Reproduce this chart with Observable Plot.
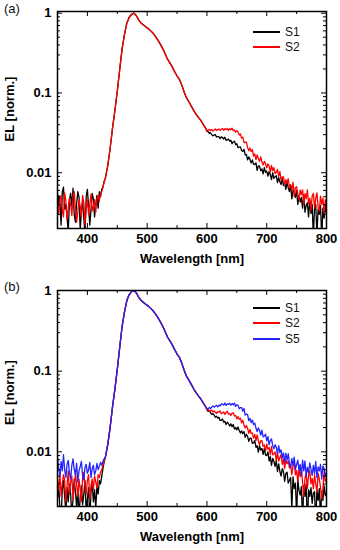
<!DOCTYPE html>
<html><head><meta charset="utf-8">
<script src="https://cdn.jsdelivr.net/npm/d3@7"></script>
<script src="https://cdn.jsdelivr.net/npm/@observablehq/plot@0.6"></script>
<style>
body{margin:0;background:#fff;font-family:"Liberation Sans",Arial,sans-serif;}
#wrap{position:relative;width:340px;height:550px;overflow:hidden;background:#fff}
.panel{position:absolute;left:0;width:340px;height:275px}
.tag{position:absolute;left:4px;font-size:13px;line-height:16px;color:#111}
.lg-line{position:absolute;height:2px}
.lg-text{position:absolute;font-size:12px;line-height:14px;color:#111}
g[aria-label="x-axis tick label"], g[aria-label="y-axis tick label"]{font-weight:bold;font-size:13px}
</style>
</head><body>
<div id="wrap">
  <div class="panel" id="pa" style="top:0"></div>
  <div class="panel" id="pb" style="top:275px"></div>
</div>
<script>
// ---- DATA ----
// Shared smooth emission peak, 430..598 nm every 4 nm (normalized EL)
const peak = [0.0085, 0.0122, 0.020, 0.036, 0.060, 0.105, 0.195, 0.355, 0.54, 0.75,
  0.89, 0.97, 1.00, 0.93, 0.82, 0.75, 0.71, 0.67, 0.64, 0.60,
  0.56, 0.51, 0.46, 0.41, 0.36, 0.31, 0.265, 0.238, 0.212, 0.185,
  0.163, 0.148, 0.125, 0.102, 0.086, 0.077, 0.068, 0.060, 0.054, 0.049,
  0.045, 0.040, 0.036];

// Noisy baseline 350..428 nm every 2 nm, in units of 1e-4
const aS1Low = [30, 52, 44, 22, 58, 66, 35, 40, 28, 18,
  46, 55, 38, 64, 30, 24, 41, 58, 49, 19,
  33, 44, 27, 17, 50, 62, 38, 22, 34, 55,
  47, 28, 40, 52, 36, 58, 50, 62, 66, 78];
const aS2Low = [38, 30, 46, 52, 34, 28, 56, 44, 26, 36,
  48, 40, 29, 50, 58, 35, 24, 32, 46, 38,
  28, 52, 42, 22, 35, 46, 30, 40, 54, 33,
  38, 46, 32, 48, 52, 44, 56, 58, 66, 76];
const bS1Low = [26, 38, 20, 14, 34, 44, 28, 18, 36, 24,
  40, 30, 16, 26, 46, 32, 20, 35, 15, 28,
  38, 22, 30, 44, 18, 26, 36, 14, 32, 40,
  24, 34, 20, 38, 30, 44, 40, 50, 62, 75];
const bS2Low = [46, 34, 55, 28, 40, 52, 44, 24, 38, 58,
  30, 42, 50, 26, 36, 54, 40, 28, 46, 34,
  24, 48, 56, 36, 30, 44, 52, 26, 38, 46,
  34, 50, 42, 36, 52, 48, 56, 60, 68, 78];
const bS5Low = [88, 62, 50, 76, 58, 92, 60, 48, 70, 78,
  55, 46, 68, 82, 60, 52, 72, 42, 58, 66,
  76, 50, 45, 64, 70, 54, 60, 74, 48, 62,
  68, 52, 58, 72, 60, 66, 74, 68, 76, 82];

// Tail 600..800 nm every 2 nm, in units of 1e-4
const aS1Tail = [330, 329, 311, 317, 300, 290, 298, 300, 281, 284,
  283, 267, 282, 276, 265, 279, 255, 258, 265, 248,
  255, 231, 243, 248, 225, 231, 206, 210, 211, 190,
  185, 196, 167, 169, 145, 158, 147, 132, 145, 127,
  127, 133, 107, 122, 121, 106, 112, 97, 116, 101,
  105, 91, 103, 95, 82, 100, 85, 89, 92, 75,
  87, 77, 71, 86, 69, 75, 62, 75, 65, 58,
  70, 47, 61, 57, 49, 60, 40, 52, 43, 49,
  36, 53, 32, 39, 42, 28, 45, 31, 40, 16,
  36, 40, 17, 35, 30, 39, 15, 36, 27, 39,
  30];
const aS2Tail = [335, 343, 349, 338, 347, 334, 343, 354, 338, 347,
  353, 340, 350, 359, 341, 356, 347, 358, 339, 356,
  346, 361, 337, 343, 322, 338, 324, 297, 307, 272,
  280, 239, 241, 242, 208, 189, 204, 184, 195, 162,
  172, 146, 167, 151, 139, 158, 136, 125, 139, 130,
  115, 129, 121, 102, 124, 106, 116, 98, 101, 110,
  90, 104, 80, 88, 89, 70, 82, 74, 84, 66,
  71, 60, 76, 50, 65, 67, 54, 46, 61, 53,
  61, 40, 55, 47, 61, 41, 48, 34, 51, 55,
  36, 48, 56, 37, 33, 51, 40, 48, 31, 46,
  40];
const bS1Tail = [333, 317, 322, 306, 291, 296, 286, 268, 276, 262,
  268, 245, 246, 255, 233, 239, 218, 233, 224, 209,
  222, 205, 218, 192, 200, 187, 204, 184, 171, 182,
  168, 178, 151, 165, 155, 135, 147, 148, 127, 129,
  138, 114, 119, 99, 119, 105, 110, 93, 110, 91,
  90, 100, 77, 87, 68, 83, 76, 66, 78, 57,
  71, 57, 50, 62, 57, 43, 54, 56, 41, 44,
  48, 20, 49, 35, 41, 16, 46, 33, 29, 37,
  14, 38, 28, 40, 12, 34, 28, 36, 23, 31,
  32, 13, 34, 25, 35, 15, 32, 25, 38, 29,
  28];
const bS2Tail = [332, 335, 318, 325, 329, 311, 322, 310, 300, 314,
  311, 322, 297, 302, 313, 291, 308, 319, 294, 299,
  283, 301, 305, 278, 282, 256, 273, 253, 262, 229,
  246, 213, 198, 211, 197, 169, 190, 169, 171, 148,
  164, 138, 162, 137, 122, 137, 138, 117, 122, 103,
  125, 108, 113, 92, 117, 92, 94, 100, 77, 99,
  77, 85, 93, 70, 82, 62, 80, 71, 77, 63,
  70, 52, 67, 73, 52, 59, 43, 62, 49, 61,
  42, 28, 47, 54, 35, 51, 58, 40, 47, 35,
  52, 40, 32, 54, 46, 36, 26, 35, 57, 43,
  46];
const bS5Tail = [345, 341, 356, 344, 359, 371, 358, 367, 379, 361,
  379, 370, 393, 389, 379, 403, 376, 392, 387, 399,
  378, 397, 383, 403, 365, 383, 379, 342, 354, 354,
  318, 344, 285, 294, 289, 244, 260, 230, 248, 218,
  227, 197, 178, 198, 184, 161, 186, 153, 157, 166,
  137, 154, 122, 138, 145, 119, 109, 123, 114, 94,
  119, 98, 106, 84, 97, 74, 96, 79, 95, 72,
  64, 83, 68, 86, 60, 70, 79, 59, 70, 51,
  79, 58, 77, 50, 64, 55, 73, 61, 51, 68,
  54, 76, 48, 65, 58, 70, 46, 67, 62, 50,
  56];

const seriesNames = ["S1", "S2", "S5"];
const seriesColors = ["#000000", "#ff0000", "#2424ff"];
const xMajor = [400, 500, 600, 700, 800];
const xMinor = [350, 450, 550, 650, 750];
const yMajor = [0.01, 0.1, 1];
const yMinor = [0.002, 0.003, 0.004, 0.005, 0.006, 0.007, 0.008, 0.009,
  0.02, 0.03, 0.04, 0.05, 0.06, 0.07, 0.08, 0.09,
  0.2, 0.3, 0.4, 0.5, 0.6, 0.7, 0.8, 0.9];

// ---- BUILD ----
function spectrum(low, tail) {
  return [
    ...low.map((v, i) => ({nm: 350 + 2 * i, v: v * 1e-4})),
    ...peak.map((v, i) => ({nm: 430 + 4 * i, v})),
    ...tail.map((v, i) => ({nm: 600 + 2 * i, v: v * 1e-4}))
  ];
}

const FONT = "'Liberation Sans', Arial, sans-serif";

function panel({series, yDomain, marginTop, marginBottom, yLabelDy}) {
  const W = 340, H = 275, ml = 57, mr = 14;
  const iw = W - ml - mr, ih = H - marginTop - marginBottom;
  const minorY = yMinor.filter(d => d >= yDomain[0]);
  return Plot.plot({
    width: W, height: H, marginLeft: ml, marginRight: mr, marginTop, marginBottom,
    x: {domain: [350, 800]},
    y: {type: "log", domain: yDomain},
    style: {fontFamily: FONT, background: "transparent", color: "#000"},
    marks: [
      ...series.map(s => Plot.line(s.data, {x: "nm", y: "v", stroke: s.color, strokeWidth: 1.3, clip: true})),
      Plot.ruleX(xMajor, {insetTop: ih - 5, strokeWidth: 1}),
      Plot.ruleX(xMajor, {insetBottom: ih - 5, strokeWidth: 1}),
      Plot.ruleX(xMinor, {insetTop: ih - 3, strokeWidth: 1}),
      Plot.ruleX(xMinor, {insetBottom: ih - 3, strokeWidth: 1}),
      Plot.ruleY(yMajor, {insetRight: iw - 5, strokeWidth: 1}),
      Plot.ruleY(yMajor, {insetLeft: iw - 5, strokeWidth: 1}),
      Plot.ruleY(minorY, {insetRight: iw - 3, strokeWidth: 1}),
      Plot.ruleY(minorY, {insetLeft: iw - 3, strokeWidth: 1}),
      Plot.frame({stroke: "#000", strokeWidth: 1.5}),
      Plot.axisX({ticks: xMajor, tickSize: 0, tickPadding: 5, label: null, fontSize: 13, fontWeight: "bold"}),
      Plot.axisY({ticks: yMajor, tickSize: 0, tickPadding: 6, label: null, tickFormat: d => String(d), fontSize: 13, fontWeight: "bold"}),
      Plot.text(["Wavelength [nm]"], {frameAnchor: "bottom", text: d => d, dy: 30, textAnchor: "middle", lineAnchor: "middle", fontSize: 13, fontWeight: "bold"}),
      Plot.text(["EL [norm.]"], {frameAnchor: "left", text: d => d, rotate: -90, dx: -48, dy: yLabelDy, textAnchor: "middle", lineAnchor: "middle", fontSize: 13, fontWeight: "bold"})
    ]
  });
}

function addOverlay(el, tag, tagTop, rows) {
  const t = document.createElement("div");
  t.className = "tag"; t.textContent = tag; t.style.top = tagTop + "px";
  el.appendChild(t);
  rows.forEach(r => {
    const l = document.createElement("div");
    l.className = "lg-line"; l.style.left = "253px"; l.style.width = "27px";
    l.style.top = (r.y - 1) + "px"; l.style.background = r.color;
    el.appendChild(l);
    const tx = document.createElement("div");
    tx.className = "lg-text"; tx.style.left = "285px"; tx.style.top = (r.y - 7) + "px";
    tx.textContent = r.name;
    el.appendChild(tx);
  });
}

const pa = document.getElementById("pa");
pa.appendChild(panel({
  series: [
    {data: spectrum(aS1Low, aS1Tail), color: seriesColors[0]},
    {data: spectrum(aS2Low, aS2Tail), color: seriesColors[1]}
  ],
  yDomain: [0.002, 1.05], marginTop: 11, marginBottom: 47, yLabelDy: -11
}));
addOverlay(pa, "(a)", 1, [
  {name: seriesNames[0], color: seriesColors[0], y: 32},
  {name: seriesNames[1], color: seriesColors[1], y: 47}
]);

const pb = document.getElementById("pb");
pb.appendChild(panel({
  series: [
    {data: spectrum(bS1Low, bS1Tail), color: seriesColors[0]},
    {data: spectrum(bS2Low, bS2Tail), color: seriesColors[1]},
    {data: spectrum(bS5Low, bS5Tail), color: seriesColors[2]}
  ],
  yDomain: [0.0021, 1.0], marginTop: 15, marginBottom: 44, yLabelDy: -6
}));
addOverlay(pb, "(b)", 4, [
  {name: seriesNames[0], color: seriesColors[0], y: 33},
  {name: seriesNames[1], color: seriesColors[1], y: 48},
  {name: seriesNames[2], color: seriesColors[2], y: 64}
]);
</script>
</body></html>
